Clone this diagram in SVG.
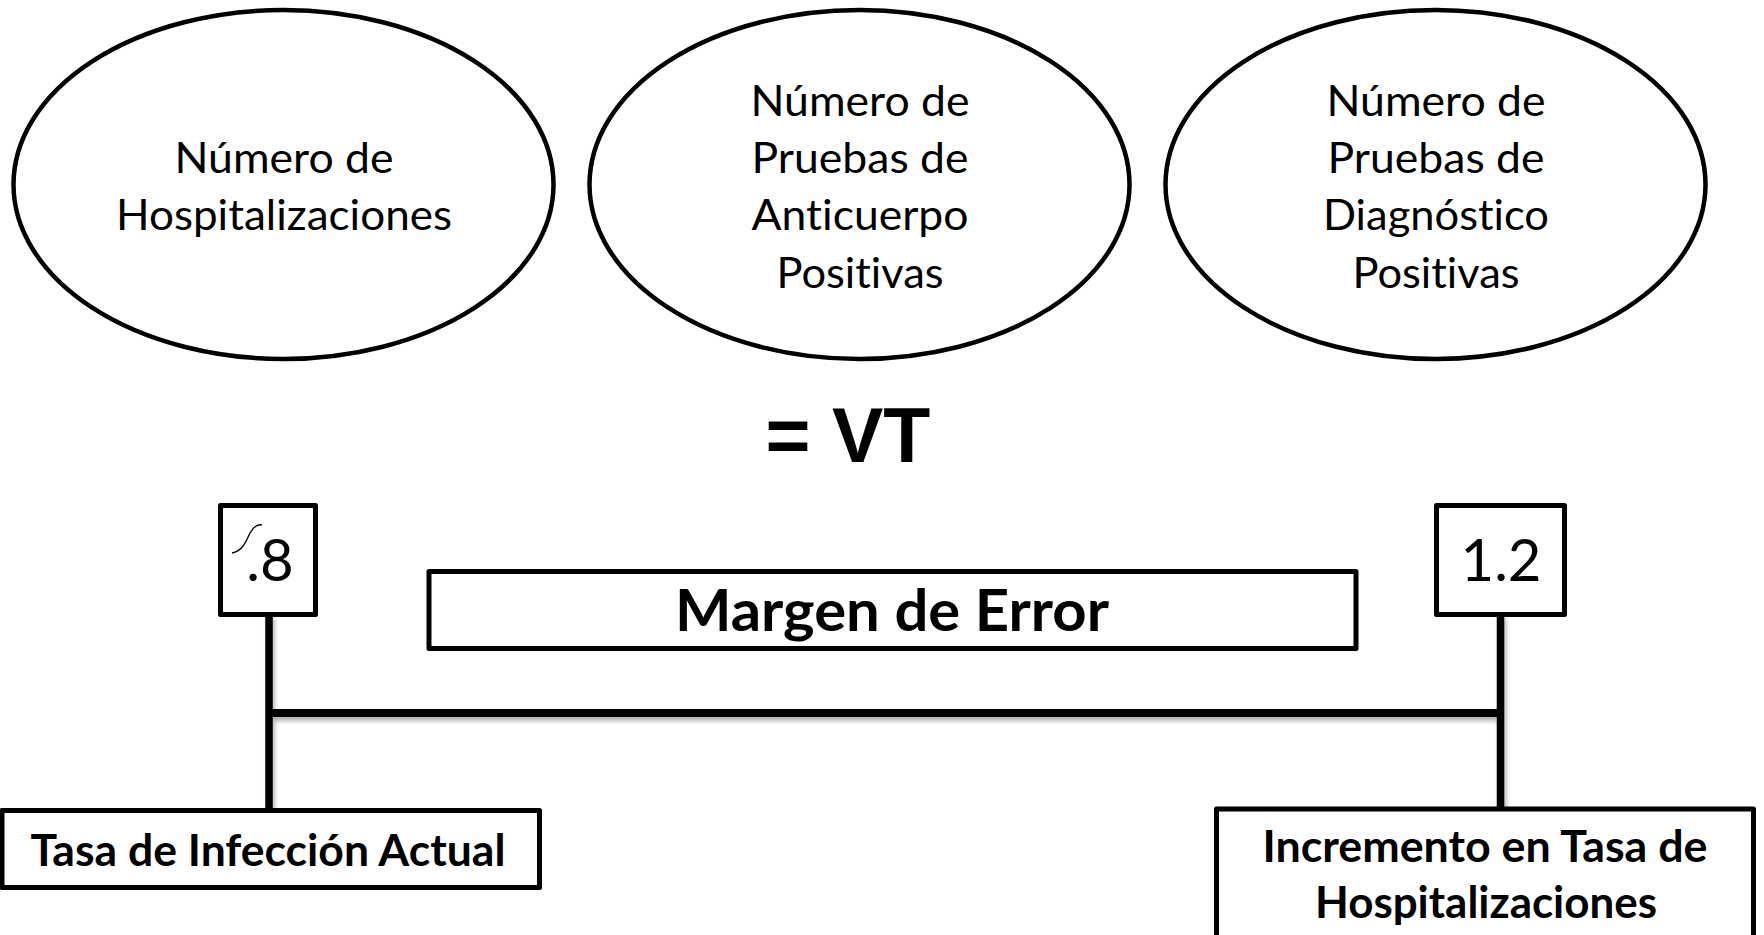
<svg xmlns="http://www.w3.org/2000/svg" width="1764" height="935" viewBox="0 0 1764 935">
<style>
  text { font-variant-ligatures: none; font-feature-settings: "liga" 0, "clig" 0; }
  .ell { fill: #ffffff; stroke: #000000; stroke-width: 4.5; }
  .box { fill: #ffffff; stroke: #000000; stroke-width: 5; stroke-linejoin: round; }
  .t { font-family: Lato, "Open Sans", "Liberation Sans", sans-serif; font-size: 43px; fill: #000000; text-anchor: middle; }
  .num { font-family: Lato, "Open Sans", "Liberation Sans", sans-serif; font-size: 58px; fill: #000000; text-anchor: middle; }
  .b { font-family: Lato, "Open Sans", "Liberation Sans", sans-serif; font-weight: bold; fill: #000000; text-anchor: middle; }
  .vt { font-family: "Liberation Sans", Arial, sans-serif; font-weight: bold; font-size: 77px; fill: #000000; text-anchor: middle; }
  .conn { stroke: #000000; fill: none; }
</style>
<defs>
  <filter id="shadow" x="-5%" y="-50%" width="110%" height="200%">
    <feDropShadow dx="2" dy="4" stdDeviation="2" flood-color="#000000" flood-opacity="0.3"/>
  </filter>
</defs>
<rect x="0" y="0" width="1764" height="935" fill="#ffffff"/>

<g id="connectors" filter="url(#shadow)">
  <line class="conn" x1="269" y1="614" x2="269" y2="810" stroke-width="7.5"/>
  <line class="conn" x1="1500.5" y1="614" x2="1500.5" y2="809" stroke-width="7.5"/>
  <line class="conn" x1="269" y1="713" x2="1500.5" y2="713" stroke-width="8"/>
</g>

<g id="node-hospitalizaciones">
  <ellipse class="ell" cx="283.5" cy="184.5" rx="270" ry="174.5"/>
  <text class="t" x="284" y="173" textLength="219" lengthAdjust="spacingAndGlyphs">Número de</text>
  <text class="t" x="284" y="230" textLength="336" lengthAdjust="spacingAndGlyphs">Hospitalizaciones</text>
</g>

<g id="node-anticuerpo">
  <ellipse class="ell" cx="859.5" cy="184.5" rx="270" ry="174.5"/>
  <text class="t" x="860" y="116" textLength="219" lengthAdjust="spacingAndGlyphs">Número de</text>
  <text class="t" x="860" y="173" textLength="217" lengthAdjust="spacingAndGlyphs">Pruebas de</text>
  <text class="t" x="860" y="230" textLength="217" lengthAdjust="spacingAndGlyphs">Anticuerpo</text>
  <text class="t" x="860" y="288" textLength="167" lengthAdjust="spacingAndGlyphs">Positivas</text>
</g>

<g id="node-diagnostico">
  <ellipse class="ell" cx="1435.5" cy="184.5" rx="270" ry="174.5"/>
  <text class="t" x="1436" y="116" textLength="219" lengthAdjust="spacingAndGlyphs">Número de</text>
  <text class="t" x="1436" y="173" textLength="217" lengthAdjust="spacingAndGlyphs">Pruebas de</text>
  <text class="t" x="1436" y="230" textLength="226" lengthAdjust="spacingAndGlyphs">Diagnóstico</text>
  <text class="t" x="1436" y="288" textLength="167" lengthAdjust="spacingAndGlyphs">Positivas</text>
</g>

<g id="node-vt">
  <text class="vt" x="848" y="462">= VT</text>
</g>

<g id="node-low">
  <rect class="box" x="220.5" y="505.5" width="95" height="109"/>
  <path d="M232,553 C243,551 246,541 250,533 C254,526 258,524 262,525" fill="none" stroke="#000000" stroke-width="1.4"/>
  <text class="num" x="270" y="581">.8</text>
</g>

<g id="node-high">
  <rect class="box" x="1436.5" y="505.5" width="128" height="109"/>
  <text class="num" x="1501" y="581">1.2</text>
</g>

<g id="node-margen">
  <rect class="box" x="429" y="571.5" width="927" height="77"/>
  <text class="b" x="892" y="631" font-size="58" textLength="434" lengthAdjust="spacingAndGlyphs">Margen de Error</text>
</g>

<g id="node-tasa">
  <rect class="box" x="2" y="810.5" width="537.5" height="77"/>
  <text class="b" x="268" y="866" font-size="43" textLength="475" lengthAdjust="spacingAndGlyphs">Tasa de Infección Actual</text>
</g>

<g id="node-incremento">
  <rect class="box" x="1216.5" y="809" width="537" height="130"/>
  <text class="b" x="1485" y="862" font-size="43" textLength="445" lengthAdjust="spacingAndGlyphs">Incremento en Tasa de</text>
  <text class="b" x="1486" y="918" font-size="43" textLength="342" lengthAdjust="spacingAndGlyphs">Hospitalizaciones</text>
</g>
</svg>
